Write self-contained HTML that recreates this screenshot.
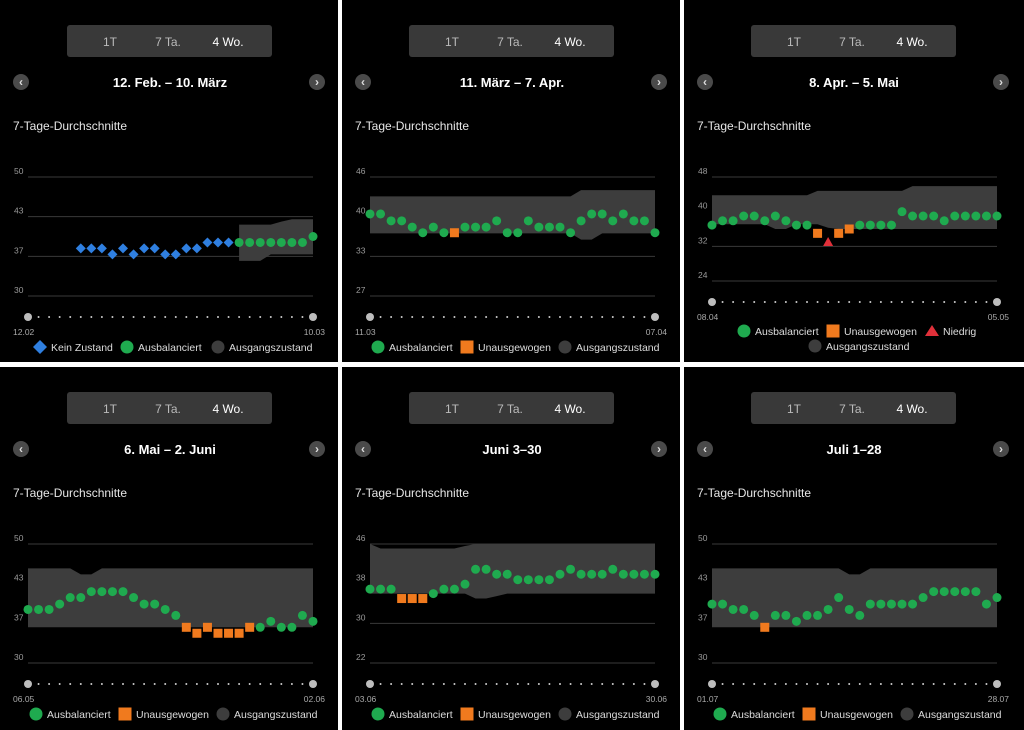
<!DOCTYPE html>
<html><head><meta charset="utf-8"><style>
html,body{margin:0;padding:0;background:#fff;width:1024px;height:730px;overflow:hidden}
svg{display:block;font-family:"Liberation Sans",sans-serif}
</style></head><body>
<svg id="c" width="1024" height="730"></svg>
<script>
const NS="http://www.w3.org/2000/svg";
// ---- data ----
const p1Title="12. Feb. – 10. März", p1Start="12.02", p1End="10.03";
const p1Ticks=[50,43,37,30];
const p1Values=[null,null,null,null,null,38,38,38,37,38,37,38,38,37,37,38,38,39,39,39,39,39,39,39,39,39,39,40];
const p1States=[null,null,null,null,null,'n','n','n','n','n','n','n','n','n','n','n','n','n','n','n','b','b','b','b','b','b','b','b'];
const p1BandHi=[null,null,null,null,null,null,null,null,null,null,null,null,null,null,null,null,null,null,null,null,42,42,42,42,42.5,42.9,42.9,42.9];
const p1BandLo=[null,null,null,null,null,null,null,null,null,null,null,null,null,null,null,null,null,null,null,null,35.9,35.9,35.9,37,37,37,37,37];

const p2Title="11. März – 7. Apr.", p2Start="11.03", p2End="07.04";
const p2Ticks=[46,40,33,27];
const p2Values=[40.1,40.1,39,39,38,37.1,38,37.1,37.1,38,38,38,39,37.1,37.1,39,38,38,38,37.1,39,40.1,40.1,39,40.1,39,39,37.1];
const p2States=['b','b','b','b','b','b','b','b','u','b','b','b','b','b','b','b','b','b','b','b','b','b','b','b','b','b','b','b'];
const p2BandHi=[42.9,42.9,42.9,42.9,42.9,42.9,42.9,42.9,42.9,42.9,42.9,42.9,42.9,42.9,42.9,42.9,42.9,42.9,42.9,42.9,43.9,43.9,43.9,43.9,43.9,43.9,43.9,43.9];
const p2BandLo=[37,37,37,37,37,37,37,37,37,37,37,37,37,37,37,37,37,37,37,37,36,36,37,37,37,37,37,37];

const p3Title="8. Apr. – 5. Mai", p3Start="08.04", p3End="05.05";
const p3Ticks=[48,40,32,24];
const p3Values=[36.9,37.9,37.9,39,39,37.9,39,37.9,36.9,36.9,35,33,35,36,36.9,36.9,36.9,36.9,40,39,39,39,37.9,39,39,39,39,39];
const p3States=['b','b','b','b','b','b','b','b','b','b','u','l','u','u','b','b','b','b','b','b','b','b','b','b','b','b','b','b'];
const p3BandHi=[43.8,43.8,43.8,43.8,43.8,43.8,43.8,43.8,43.8,43.8,44.8,44.8,44.8,44.8,44.8,44.8,44.8,44.8,44.8,45.9,45.9,45.9,45.9,45.9,45.9,45.9,45.9,45.9];
const p3BandLo=[37.1,37.1,37.1,37.1,37.1,37.1,36,36,37.1,37.1,37.1,36.3,36,36,36,36,36,36,36,36,36,36,36,36,36,36,36,36];

const p4Title="6. Mai – 2. Juni", p4Start="06.05", p4End="02.06";
const p4Ticks=[50,43,37,30];
const p4Values=[39,39,39,39.9,41,41,42,42,42,42,41,39.9,39.9,39,38,36,35,36,35,35,35,36,36,37,36,36,38,37];
const p4States=['b','b','b','b','b','b','b','b','b','b','b','b','b','b','b','u','u','u','u','u','u','u','b','b','b','b','b','b'];
const p4BandHi=[45.9,45.9,45.9,45.9,45.9,44.9,44.9,45.9,45.9,45.9,45.9,45.9,45.9,45.9,45.9,45.9,45.9,45.9,45.9,45.9,45.9,45.9,45.9,45.9,45.9,45.9,45.9,45.9];
const p4BandLo=[36,36,36,36,36,36,36,36,36,36,36,36,36,36,36,36,36,36,36,36,36,36,36,36,36,36,36,36];

const p5Title="Juni 3–30", p5Start="03.06", p5End="30.06";
const p5Ticks=[46,38,30,22];
const p5Values=[36.9,36.9,36.9,35,35,35,36,36.9,36.9,37.9,40.9,40.9,39.9,39.9,38.8,38.8,38.8,38.8,39.9,40.9,39.9,39.9,39.9,40.9,39.9,39.9,39.9,39.9];
const p5States=['b','b','b','u','u','u','b','b','b','b','b','b','b','b','b','b','b','b','b','b','b','b','b','b','b','b','b','b'];
const p5BandHi=[46,45.1,45.1,45.1,45.1,45.1,45.1,45.1,45.1,45.6,46,46,46,46,46,46,46,46,46,46,46,46,46,46,46,46,46,46];
const p5BandLo=[36,36,36,36,36,36,36,36,36,36,35,35,35.5,36,36,36,36,36,36,36,36,36,36,36,36,36,36,36];

const p6Title="Juli 1–28", p6Start="01.07", p6End="28.07";
const p6Ticks=[50,43,37,30];
const p6Values=[39.9,39.9,39,39,38,36,38,38,37,38,38,39,41,39,38,39.9,39.9,39.9,39.9,39.9,41,42,42,42,42,42,39.9,41];
const p6States=['b','b','b','b','b','u','b','b','b','b','b','b','b','b','b','b','b','b','b','b','b','b','b','b','b','b','b','b'];
const p6BandHi=[45.9,45.9,45.9,45.9,45.9,45.9,45.9,45.9,45.9,45.9,45.9,45.9,45.9,44.9,44.9,45.9,45.9,45.9,45.9,45.9,45.9,45.9,45.9,45.9,45.9,45.9,45.9,45.9];
const p6BandLo=[36,36,36,36,36,36,36,36,36,36,36,36,36,36,36,36,36,36,36,36,36,36,36,36,36,36,36,36];

const stdLegend=[['b','Ausbalanciert',36],['u','Unausgewogen',125],['g','Ausgangszustand',223]];
// ---- drawing ----
const svg=document.getElementById('c');
function mk(tag,attrs,parent,text){const e=document.createElementNS(NS,tag);for(const k in attrs)e.setAttribute(k,attrs[k]);if(text!=null)e.textContent=text;parent.appendChild(e);return e;}
const COL={b:'#1faa4f',u:'#f07a1e',l:'#e0303a',n:'#2f7fe0',g:'#3d3d3d'};
function marker(g,s,x,y){
  let e;
  if(s==='b'||s==='g'){e=mk('circle',{cx:x,cy:y,r:s==='g'?6.5:4.5,fill:COL[s]},g);}
  else if(s==='u'){const h=s==='u'?4.5:4;e=mk('rect',{x:x-h,y:y-h,width:2*h,height:2*h,fill:COL.u},g);}
  else if(s==='l'){e=mk('polygon',{points:`${x},${y-5} ${x+5},${y+4} ${x-5},${y+4}`,fill:COL.l},g);}
  else {e=mk('polygon',{points:`${x},${y-5} ${x+5},${y} ${x},${y+5} ${x-5},${y}`,fill:COL.n},g);}
  return e;
}
function legendMarker(g,s,x,y){
  let e;
  if(s==='b'||s==='g') e=mk('circle',{cx:x,cy:y,r:6.5,fill:COL[s]},g);
  else if(s==='u') e=mk('rect',{x:x-6.5,y:y-6.5,width:13,height:13,fill:COL.u},g);
  else if(s==='l') e=mk('polygon',{points:`${x},${y-6} ${x+7},${y+5} ${x-7},${y+5}`,fill:COL.l},g);
  else e=mk('polygon',{points:`${x},${y-7} ${x+7},${y} ${x},${y+7} ${x-7},${y}`,fill:COL.n},g);
  return e;
}
function panel(idx,ox,oy,title,start,end,ticks,values,states,hi,lo,legend,compact){
  const g=mk('g',{transform:`translate(${ox},${oy})`},svg);
  
  
  mk('rect',{x:0,y:0,width:idx%3===0?340:338,height:idx<=3?362:363,fill:'#000'},g);
  // segmented control
  const seg=mk('rect',{x:67,y:25,width:205,height:32,rx:3,fill:'#393939'},g);
  
  [['1T',110,'#bbb'],['7 Ta.',168,'#bbb'],['4 Wo.',228,'#fff']].forEach(([t,x,c])=>{
    const e=mk('text',{x:x,y:46,'text-anchor':'middle','font-size':12,fill:c},g,t);
    
    
  });
  [[21,'‹','prev-period-button'],[317,'›','next-period-button']].forEach(([x,ch,n])=>{
    const c=mk('circle',{cx:x,cy:82,r:8,fill:'#4a4a4a'},g);
    
    mk('text',{x:x,y:86,'text-anchor':'middle','font-size':12,'font-weight':'bold',fill:'#ddd'},g,ch);
  });
  const t=mk('text',{x:170,y:87,'text-anchor':'middle','font-size':13,'font-weight':'bold',fill:'#fff'},g,title);
  
  const st=mk('text',{x:13,y:130,'font-size':12,fill:'#e6e6e6'},g,'7-Tage-Durchschnitte');
  
  const gTop=177,gBot=compact?281:296;
  const top=ticks[0],bot=ticks[ticks.length-1];
  const Y=v=>gTop+(top-v)/(top-bot)*(gBot-gTop);
  const X=i=>28+i*(285/27);
  ticks.forEach((v,k)=>{
    const y=gTop+k*(gBot-gTop)/(ticks.length-1);
    const l=mk('line',{x1:28,x2:313,y1:y,y2:y,stroke:'#3a3a3a','stroke-width':1},g);
    
    const tl=mk('text',{x:14,y:y-3,'font-size':8.5,fill:'#9a9a9a'},g,String(v));
    
  });
  // band
  const up=[],dn=[];
  hi.forEach((v,i)=>{if(v!=null){up.push([X(i),Y(v)]);dn.unshift([X(i),Y(lo[i])]);}});
  if(up.length){
    const pts=up.concat(dn).map(p=>p.join(',')).join(' ');
    const b=mk('polygon',{points:pts,fill:'#3d3d3d'},g);
    
  }
  // points
  values.forEach((v,i)=>{
    if(v==null)return;
    const m=marker(g,states[i],X(i),Y(v));
    
    
  });
  // day dots
  const dy=compact?302:317;
  for(let i=0;i<28;i++){
    const end=(i===0||i===27);
    const d=mk('circle',{cx:X(i),cy:dy,r:end?4:1,fill:end?'#bdbdbd':'#ccc'},g);
    
    
  }
  const ly=compact?317:332;
  const s1=mk('text',{x:13,y:ly+3,'font-size':8.5,fill:'#aaa'},g,start);
  
  const s2=mk('text',{x:325,y:ly+3,'text-anchor':'end','font-size':8.5,fill:'#aaa'},g,end);
  
  legend.forEach(([s,txt,x,yy])=>{
    const y=yy||347;
    const lm=legendMarker(g,s,x,y);
    
    const lt=mk('text',{x:x+11,y:y+4,'font-size':10.5,fill:'#ddd'},g,txt);
    
  });
}
panel(1,0,0,p1Title,p1Start,p1End,p1Ticks,p1Values,p1States,p1BandHi,p1BandLo,
  [['n','Kein Zustand',40],['b','Ausbalanciert',127],['g','Ausgangszustand',218]],false);
panel(2,342,0,p2Title,p2Start,p2End,p2Ticks,p2Values,p2States,p2BandHi,p2BandLo,stdLegend,false);
panel(3,684,0,p3Title,p3Start,p3End,p3Ticks,p3Values,p3States,p3BandHi,p3BandLo,
  [['b','Ausbalanciert',60,331],['u','Unausgewogen',149,331],['l','Niedrig',248,331],['g','Ausgangszustand',131,346]],true);
panel(4,0,367,p4Title,p4Start,p4End,p4Ticks,p4Values,p4States,p4BandHi,p4BandLo,stdLegend,false);
panel(5,342,367,p5Title,p5Start,p5End,p5Ticks,p5Values,p5States,p5BandHi,p5BandLo,stdLegend,false);
panel(6,684,367,p6Title,p6Start,p6End,p6Ticks,p6Values,p6States,p6BandHi,p6BandLo,stdLegend,false);
</script>
</body></html>
